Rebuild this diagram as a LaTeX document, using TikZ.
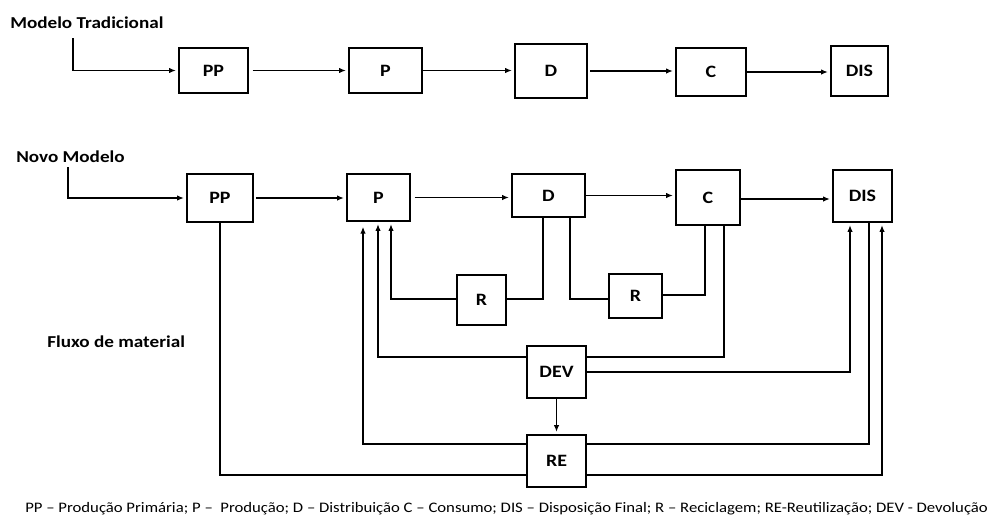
\documentclass[tikz,border=0pt]{standalone}
\usepackage{fontspec}
\usepackage{graphicx}
\setmainfont{Carlito}
\usetikzlibrary{arrows.meta}

% texto um pouco mais largo, como no original
\newcommand{\larg}[1]{\scalebox{1.15}[1]{#1}}

\tikzset{
  caixa/.style 2 args={draw, line width=0.8pt, inner sep=0pt,
    minimum width=#1, minimum height=#2,
    font=\bfseries\fontsize{13}{15}\selectfont},
  titulo/.style={anchor=west, inner sep=0pt, font=\bfseries\fontsize{12.5}{14}\selectfont},
  linha/.style={line width=0.8pt},
  seta/.style={linha, -{Latex[length=5pt,width=4pt]}, shorten >=2pt}
}

\begin{document}
\begin{tikzpicture}[x=0.75pt,y=-0.75pt]
  \useasboundingbox (0,0) rectangle (998,518);

  % Modelo tradicional
  \node[titulo] (tit1) at (10,23) {\larg{Modelo Tradicional}};
  \node[caixa={51.75pt}{33.75pt}] (PP1) at (213.5,70.5) {\larg{PP}};
  \node[caixa={54.75pt}{33.75pt}] (P1) at (385.5,70.5) {\larg{P}};
  \node[caixa={54pt}{40.5pt}] (D1) at (551,71) {\larg{D}};
  \node[caixa={52.5pt}{36pt}] (C1) at (711,72) {\larg{C}};
  \node[caixa={42.75pt}{37.5pt}] (DIS1) at (859.5,71) {\larg{DIS}};
  \coordinate (t0) at (73,38);

  \draw[seta] (t0) |- (PP1.west);
  \draw[seta, shorten <=3pt] (PP1.east) -- (PP1.east -| P1.west);
  \draw[seta] (P1.east) -- (P1.east -| D1.west);
  \draw[seta, shorten <=2pt] (D1.east) -- (D1.east -| C1.west);
  \draw[seta] (C1.east) -- (C1.east -| DIS1.west);

  % Novo modelo
  \node[titulo] (tit2) at (16,157) {\larg{Novo Modelo}};
  \node[caixa={49.5pt}{36pt}] (PP2) at (220,198) {\larg{PP}};
  \node[caixa={47.25pt}{35.25pt}] (P2) at (378.5,197.5) {\larg{P}};
  \node[caixa={54.75pt}{32.25pt}] (D2) at (548.5,195.5) {\larg{D}};
  \node[caixa={48pt}{41.25pt}] (C2) at (708,197.5) {\larg{C}};
  \node[caixa={44.25pt}{39pt}] (DIS2) at (862.5,196) {\larg{DIS}};
  \node[caixa={36.75pt}{37.5pt}] (R1) at (481.5,300) {\larg{R}};
  \node[caixa={39.75pt}{33pt}] (R2) at (635.5,296) {\larg{R}};
  \node[caixa={44.25pt}{39pt}] (DEV) at (556.5,372) {\larg{DEV}};
  \node[caixa={44.25pt}{39pt}] (RE) at (556.5,461) {\larg{RE}};
  \node[titulo] (fluxo) at (47,342) {\larg{Fluxo de material}};
  \coordinate (n0) at (68,167);

  \draw[seta] (n0) |- (PP2.west);
  \draw[seta, shorten <=2pt] (PP2.east) -- (PP2.east -| P2.west);
  \draw[seta, shorten <=3pt] (P2.east) -- (P2.east -| D2.west);
  \draw[seta] (D2.east) -- (D2.east -| C2.west);
  \draw[seta] (C2.east |- 0,199) -- (DIS2.west |- 0,199);

  % Retornos
  \coordinate (k1) at (543,299);
  \coordinate (k2) at (391,299);
  \coordinate (k3) at (570,299);
  \coordinate (k4) at (705,295);
  \coordinate (k5) at (724,357);
  \coordinate (k6) at (378,357);
  \coordinate (k7) at (850,372);
  \coordinate (k9) at (363,444);
  \coordinate (k10) at (220,475);
  \coordinate (k11) at (869,444);
  \coordinate (k12) at (882,475);

  \draw[linha] (D2.south -| k1) -- (k1) -- (R1.east |- k1);
  \draw[seta] (R1.west |- k2) -- (k2) -- (P2.south -| k2);
  \draw[linha] (D2.south -| k3) -- (k3) -- (R2.west |- k3);
  \draw[linha] (R2.east |- k4) -- (k4) -- (C2.south -| k4);
  \draw[linha] (C2.south -| k5) -- (k5) -- (DEV.east |- k5);
  \draw[seta] (DEV.west |- k6) -- (k6) -- (P2.south -| k6);
  \draw[seta] (DEV.east |- k7) -- (k7) -- (DIS2.south -| k7);
  \draw[seta] (DEV.south) -- (RE.north);
  \draw[seta, shorten >=4pt] (RE.west |- k9) -- (k9) -- (P2.south -| k9);
  \draw[linha] (PP2.south) -- (k10) -- (RE.west |- k10);
  \draw[linha] (RE.east |- k11) -- (k11) -- (DIS2.south -| k11);
  \draw[seta] (RE.east |- k12) -- (k12) -- (DIS2.south -| k12);

  % Legenda
  \node[anchor=west, inner sep=0pt, font=\fontsize{10.9}{12}\selectfont] (leg) at (25,509)
    {\larg{PP -- Produção Primária; P --\ \ Produção; D -- Distribuição C -- Consumo; DIS -- Disposição Final; R -- Reciclagem; RE-Reutilização; DEV - Devolução}};
\end{tikzpicture}
\end{document}
